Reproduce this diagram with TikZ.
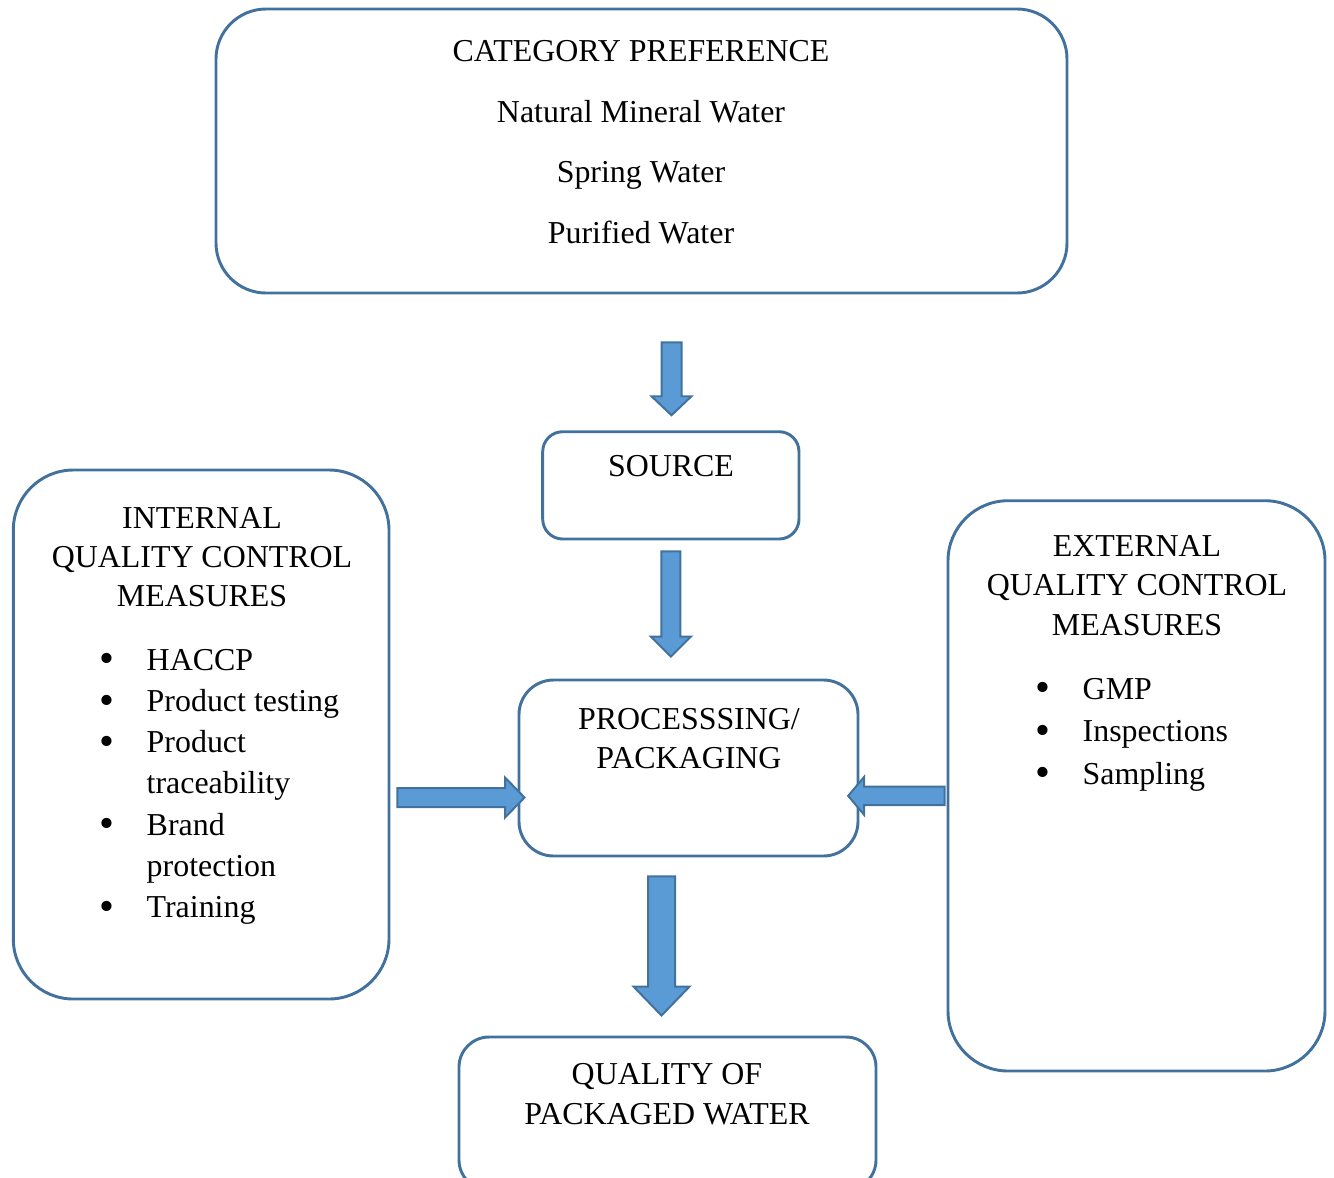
\documentclass[tikz,border=0pt]{standalone}
\usepackage{fontspec}
\setmainfont{Liberation Serif}
\usetikzlibrary{calc,fit}

\definecolor{boxline}{HTML}{41719C}
\definecolor{arrowfill}{HTML}{5B9BD5}

\newcommand{\bul}{\makebox[17.6pt][l]{\raisebox{-1pt}{\fontsize{16}{16}\selectfont\textbullet}}}
\newcommand{\gap}{\hspace*{17.6pt}}
% block arrows: start, tip, shaft half width, head half width, head length
\newcommand{\vblock}[5]{\draw[blockarr] ($(#1)+(-#3,0)$) -- ($(#2)-(#3,#5)$) -- ($(#2)-(#4,#5)$) -- (#2) -- ($(#2)-(-#4,#5)$) -- ($(#2)-(-#3,#5)$) -- ($(#1)+(#3,0)$) -- cycle;}
\newcommand{\hblock}[5]{\draw[blockarr] ($(#1)+(0,-#3)$) -- ($(#2)-(#5,#3)$) -- ($(#2)-(#5,#4)$) -- (#2) -- ($(#2)-(#5,-#4)$) -- ($(#2)-(#5,-#3)$) -- ($(#1)+(0,#3)$) -- cycle;}

\begin{document}
\begin{tikzpicture}[x=0.376pt,y=-0.376pt,
    box/.style={draw=boxline,line width=1.1pt,inner sep=0pt},
    blockarr/.style={draw=boxline,fill=arrowfill,line width=0.75pt,line join=miter},
    txt/.style={inner sep=0pt,anchor=north,align=center}]
  \useasboundingbox (0,0) rectangle (1334,1177);

  % boxes
  \node[box,rounded corners=18.8pt,fit={(216,9) (1067,293)}] (category) {};
  \node[box,rounded corners=7.5pt,fit={(542.7,431.7) (799,539)}] (source) {};
  \node[box,rounded corners=13pt,fit={(519,680) (858,856)}] (processing) {};
  \node[box,rounded corners=11.3pt,fit={(459,1037) (876,1190)}] (quality) {};
  \node[box,rounded corners=22.6pt,fit={(13.3,470) (389,999)}] (internal) {};
  \node[box,rounded corners=22.6pt,fit={(948,500.7) (1325,1071)}] (external) {};

  % texts
  \node[txt,font=\fontsize{12}{22.9}\selectfont] (categorytxt) at (641,39.5)
    {CATEGORY PREFERENCE\\Natural Mineral Water\\Spring Water\\Purified Water};
  \node[txt,font=\fontsize{12}{14.7}\selectfont] (sourcetxt) at (671,454.5) {SOURCE};
  \node[txt,font=\fontsize{12}{14.7}\selectfont] (processingtxt) at (689,707.5)
    {PROCESSSING/\\PACKAGING};
  \node[txt,font=\fontsize{12}{15}\selectfont] (qualitytxt) at (667,1062.5)
    {QUALITY OF\\PACKAGED WATER};
  \node[txt,font=\fontsize{12}{14.7}\selectfont] (internaltxt) at (202,506.5)
    {INTERNAL\\QUALITY CONTROL\\MEASURES};
  \node[txt,font=\fontsize{12}{14.85}\selectfont] (externaltxt) at (1137,534.5)
    {EXTERNAL\\QUALITY CONTROL\\MEASURES};
  \node[txt,anchor=north west,align=left,font=\fontsize{12}{15.5}\selectfont] (internallist) at (99.4,648.5)
    {\bul HACCP\\\bul Product testing\\\bul Product\\\gap traceability\\\bul Brand\\\gap protection\\\bul Training};
  \node[txt,anchor=north west,align=left,font=\fontsize{12}{16}\selectfont] (externallist) at (1035.4,677.5)
    {\bul GMP\\\bul Inspections\\\bul Sampling};

  % arrows
  \coordinate (a1s) at ($(category.south)+(30,48)$);
  \coordinate (a1e) at ($(a1s |- source.north)+(0,-15)$);
  \coordinate (a2s) at ($(source.south)+(0,11)$);
  \coordinate (a2e) at ($(a2s |- processing.north)+(0,-22)$);
  \coordinate (a3s) at ($(processing.south)+(-27,19)$);
  \coordinate (a3e) at ($(a3s |- quality.north)+(0,-20)$);
  \coordinate (ls) at ($(internal.east)+(7,63)$);
  \coordinate (le) at ($(ls -| processing.west)+(7,0)$);
  \coordinate (rs) at ($(external.west)+(-2,10)$);
  \coordinate (re) at ($(rs -| processing.east)+(-11.3,0)$);

  \vblock{a1s}{a1e}{10}{20}{19}
  \vblock{a2s}{a2e}{9.5}{20}{20}
  \vblock{a3s}{a3e}{13.5}{28}{29}
  \hblock{ls}{le}{9.5}{20}{19.5}
  \hblock{rs}{re}{9.3}{19}{-16}
\end{tikzpicture}
\end{document}
